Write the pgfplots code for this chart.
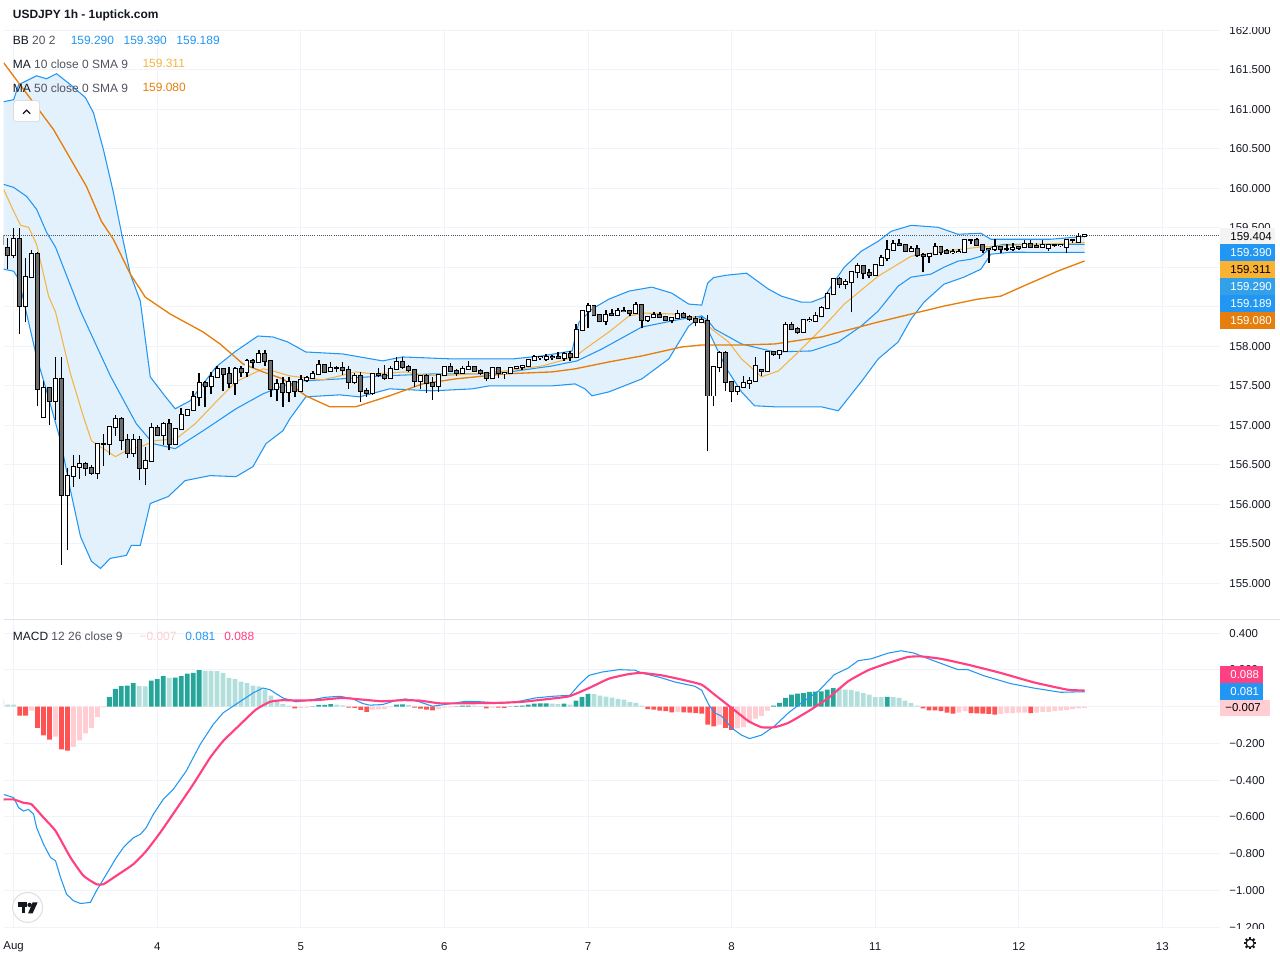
\documentclass[border=0pt]{standalone}
\usepackage{fontspec}
\setmainfont{Liberation Sans}
\usepackage{pgfplots}
\pgfplotsset{compat=1.18}
\usepackage{pgfplotstable}
\usepgfplotslibrary{fillbetween}
\definecolor{tvtext}{HTML}{131722}
\definecolor{argc}{HTML}{50535E}
\definecolor{gridc}{HTML}{F0F3FA}
\definecolor{bbblue}{HTML}{2196F3}
\definecolor{bbfill}{HTML}{E3F1FD}
\definecolor{ma10c}{HTML}{F6B441}
\definecolor{ma50c}{HTML}{E67E08}
\definecolor{downc}{HTML}{6E6E6E}
\definecolor{hdg}{HTML}{26A69A}
\definecolor{hlg}{HTML}{B2DFDB}
\definecolor{hlr}{HTML}{FFCDD2}
\definecolor{hr}{HTML}{FF5252}
\definecolor{sigc}{HTML}{FF4081}
\definecolor{sepc}{HTML}{E0E3EB}
\definecolor{tagblue2}{HTML}{33A0EA}
\definecolor{tagyel}{HTML}{F9B233}
\definecolor{tagorg}{HTML}{E57E0C}
\definecolor{lastc}{HTML}{F3F3F3}
\begin{document}
\pgfplotstableread{
h o hi lo c
-2 159.400 159.500 159.250 159.300
-1 159.241 159.376 158.976 159.156
0 159.156 159.502 159.123 159.363
1 159.363 159.502 158.155 158.505
2 158.505 159.123 158.303 158.883
3 158.883 159.219 158.871 159.174
4 159.174 159.190 157.238 157.461
5 157.104 157.566 157.090 157.470
6 157.470 157.480 156.998 157.306
7 157.306 157.861 157.061 157.584
8 157.584 157.869 155.231 156.114
9 156.114 156.460 155.420 156.359
10 156.359 156.628 156.224 156.473
11 156.473 156.628 156.325 156.506
12 156.506 156.540 156.363 156.460
13 156.460 156.493 156.367 156.397
14 156.397 156.770 156.325 156.763
15 156.763 156.893 156.489 156.763
16 156.763 156.980 156.619 156.973
17 156.973 157.133 156.868 157.074
18 157.074 157.104 156.682 156.817
19 156.817 156.893 156.586 156.653
20 156.653 156.893 156.603 156.817
21 156.817 156.864 156.304 156.460
22 156.460 156.725 156.241 156.549
23 156.549 157.032 156.540 156.965
24 156.965 156.998 156.864 156.881
25 156.881 157.041 156.745 157.019
26 157.019 157.074 156.682 156.767
27 156.767 156.956 156.758 156.947
28 156.947 157.217 156.940 157.133
29 157.133 157.210 157.120 157.196
30 157.196 157.440 157.187 157.356
31 157.356 157.663 157.238 157.533
32 157.533 157.566 157.230 157.495
33 157.495 157.676 157.398 157.609
34 157.609 157.755 157.600 157.714
35 157.714 157.720 157.432 157.650
36 157.650 157.735 157.474 157.533
37 157.533 157.735 157.389 157.714
38 157.714 157.755 157.609 157.672
39 157.672 157.840 157.609 157.818
40 157.818 157.840 157.726 157.802
41 157.802 157.953 157.790 157.903
42 157.903 157.953 157.755 157.811
43 157.811 157.820 157.364 157.461
44 157.461 157.587 157.306 157.524
45 157.524 157.612 157.234 157.419
46 157.419 157.609 157.293 157.546
47 157.546 157.566 157.356 157.432
48 157.432 157.638 157.420 157.578
49 157.571 157.620 157.546 157.596
50 157.596 157.688 157.587 157.650
51 157.650 157.831 157.640 157.764
52 157.764 157.773 157.672 157.679
53 157.688 157.798 157.679 157.722
54 157.722 157.755 157.679 157.722
55 157.722 157.798 157.638 157.697
56 157.697 157.748 157.461 157.546
57 157.546 157.663 157.524 157.629
58 157.629 157.672 157.301 157.440
59 157.440 157.470 157.356 157.407
60 157.407 157.663 157.385 157.650
61 157.650 157.722 157.609 157.638
62 157.638 157.764 157.578 157.600
63 157.600 157.748 157.587 157.714
64 157.714 157.861 157.700 157.806
65 157.806 157.861 157.714 157.743
66 157.743 157.764 157.676 157.701
67 157.701 157.710 157.490 157.558
68 157.558 157.630 157.461 157.621
69 157.621 157.650 157.411 157.537
70 157.537 157.609 157.322 157.495
71 157.495 157.650 157.419 157.642
72 157.642 157.755 157.629 157.735
73 157.735 157.789 157.672 157.684
74 157.684 157.714 157.621 157.659
75 157.659 157.755 157.650 157.714
76 157.714 157.818 157.700 157.735
77 157.735 157.748 157.672 157.684
78 157.684 157.714 157.638 157.659
79 157.659 157.672 157.566 157.596
80 157.596 157.735 157.587 157.722
81 157.722 157.735 157.596 157.659
82 157.659 157.679 157.587 157.663
83 157.663 157.735 157.650 157.722
84 157.722 157.755 157.714 157.735
85 157.735 157.764 157.705 157.748
86 157.748 157.840 157.735 157.831
87 157.831 157.890 157.818 157.861
88 157.861 157.880 157.830 157.870
89 157.840 157.903 157.815 157.870
90 157.870 157.890 157.831 157.861
91 157.861 157.924 157.840 157.848
92 157.848 157.924 157.818 157.903
93 157.903 157.944 157.818 157.861
94 157.861 158.281 157.850 158.206
95 158.206 158.450 158.197 158.442
96 158.442 158.546 158.227 158.512
97 158.505 158.520 158.390 158.395
98 158.395 158.408 158.303 158.316
99 158.316 158.462 158.269 158.395
100 158.408 158.471 158.386 158.395
101 158.395 158.480 158.386 158.449
102 158.449 158.492 158.429 158.445
103 158.445 158.462 158.378 158.420
104 158.420 158.555 158.410 158.521
105 158.521 158.534 158.227 158.332
106 158.332 158.386 158.311 158.366
107 158.366 158.437 158.360 158.395
108 158.395 158.429 158.360 158.366
109 158.366 158.386 158.324 158.332
110 158.332 158.366 158.290 158.353
111 158.353 158.462 158.345 158.408
112 158.408 158.429 158.353 158.366
113 158.366 158.395 158.324 158.345
114 158.345 158.386 158.252 158.303
115 158.303 158.366 158.290 158.332
116 158.323 158.395 156.670 157.377
117 157.377 157.740 157.243 157.735
118 157.735 157.944 157.672 157.915
119 157.915 157.944 157.440 157.546
120 157.546 157.550 157.301 157.440
121 157.440 157.503 157.385 157.483
122 157.483 157.621 157.480 157.533
123 157.533 157.609 157.461 157.566
124 157.558 157.861 157.546 157.748
125 157.695 157.714 157.621 157.690
126 157.684 157.944 157.679 157.924
127 157.924 157.944 157.882 157.903
128 157.903 157.957 157.840 157.937
129 157.937 158.303 157.930 158.269
130 158.269 158.303 158.210 158.218
131 158.218 158.240 158.155 158.177
132 158.184 158.345 158.180 158.332
133 158.332 158.366 158.311 158.336
134 158.323 158.429 158.320 158.386
135 158.378 158.505 158.366 158.480
136 158.480 158.682 158.471 158.656
137 158.656 158.850 158.650 158.849
138 158.849 158.883 158.732 158.783
139 158.783 158.849 158.723 158.808
140 158.808 158.954 158.429 158.934
141 158.934 159.060 158.858 159.010
142 159.010 159.017 158.849 158.925
143 158.925 158.976 158.858 158.900
144 158.900 159.039 158.890 159.026
145 159.026 159.152 159.017 159.123
146 159.123 159.345 159.080 159.219
147 159.219 159.345 159.210 159.291
148 159.291 159.354 159.270 159.279
149 159.279 159.291 159.194 159.207
150 159.207 159.270 159.200 159.237
151 159.237 159.280 159.135 159.152
152 159.152 159.186 158.934 159.148
153 159.140 159.186 159.060 159.165
154 159.165 159.304 159.150 159.262
155 159.262 159.270 159.152 159.194
156 159.207 159.237 159.165 159.186
157 159.190 159.228 159.165 159.194
158 159.194 159.228 159.177 159.199
159 159.199 159.354 159.190 159.345
160 159.345 159.363 159.291 159.345
161 159.345 159.376 159.270 159.279
162 159.279 159.291 159.186 159.219
163 159.237 159.250 159.060 159.228
164 159.237 159.354 159.207 159.262
165 159.262 159.270 159.177 159.228
166 159.228 159.291 159.207 159.228
167 159.228 159.304 159.207 159.249
168 159.262 159.270 159.219 159.245
169 159.262 159.345 159.249 159.300
170 159.300 159.345 159.249 159.262
171 159.270 159.304 159.249 159.258
172 159.258 159.345 159.249 159.279
173 159.249 159.280 159.207 159.279
174 159.279 159.291 159.262 159.279
175 159.279 159.291 159.262 159.283
176 159.262 159.354 159.186 159.345
177 159.345 159.363 159.312 159.345
178 159.325 159.430 159.320 159.388
179 159.395 159.417 159.380 159.404
}\candles
\pgfplotstableread{
h p
-1.667 161.096
0 161.121
0.833 161.311
3.833 161.424
5.5 161.386
7.167 161.450
9.5 161.311
12 161.147
13.333 160.957
15 160.490
16.667 159.948
18 159.443
19.5 158.913
21.167 158.572
22.833 157.613
25 157.398
27 157.209
29.5 157.310
31.667 157.524
33.833 157.739
37.167 157.941
40.833 158.130
43.333 158.118
45.833 158.054
48.833 157.928
55 157.903
61.667 157.815
65 157.865
73.333 157.840
83.333 157.840
88.333 157.878
93.333 157.941
94.5 158.307
96.667 158.471
99.5 158.597
102.833 158.698
106.667 158.749
110 158.673
112.833 158.534
115 158.521
116 158.800
117 158.870
119.167 158.900
122.5 158.925
126.167 158.723
128.333 158.635
131.667 158.559
133.333 158.559
135.5 158.622
136.667 158.761
138.833 159.001
141.667 159.203
144.5 159.329
146.667 159.455
150 159.531
154.5 159.506
157.833 159.418
161.667 159.431
163.333 159.355
167.833 159.355
173.333 159.355
179 159.390
}\bbup
\pgfplotstableread{
h p
-1.667 158.976
0 158.950
0.833 158.850
3.833 157.865
5.5 157.436
7.833 156.805
9.5 156.174
11.167 155.593
13 155.278
14.5 155.189
16.167 155.316
18.833 155.353
19.667 155.480
21.167 155.480
22.833 156.010
25.833 156.098
28.667 156.300
32.833 156.363
37.167 156.350
40 156.477
42.167 156.767
45 156.931
46.167 157.083
48.833 157.360
54.5 157.385
57.833 157.360
62.833 157.461
70 157.436
76.667 157.461
79.5 157.499
90 157.499
93.833 157.524
95.5 157.461
96.667 157.373
99.5 157.423
105 157.587
109.5 157.840
112.833 158.256
115 158.383
116 158.218
117.167 158.029
119.167 157.713
121.667 157.423
123.833 157.247
127.167 157.234
135 157.234
137.833 157.184
141.667 157.550
144.5 157.840
147.833 158.054
150 158.345
152.167 158.559
155.5 158.786
158.833 158.875
161.667 158.976
163.333 159.165
166.667 159.190
179 159.189
}\bblo
\pgfplotstableread{
h p
-1.667 160.049
0 160.011
2.167 159.897
3.833 159.733
5.5 159.443
7 159.253
11.167 158.446
16.167 157.625
20.5 157.019
23.333 156.767
27 156.704
31.667 156.931
37.167 157.209
41.667 157.398
45 157.499
48.333 157.562
54.5 157.587
61.667 157.625
70 157.650
76.667 157.650
81.667 157.663
90 157.751
94.167 157.815
98.333 157.966
105 158.244
111.667 158.345
115 158.383
116 158.330
117.167 158.218
121.667 158.029
127.167 157.928
133.333 157.941
137.833 158.054
141.667 158.256
144.5 158.446
147.833 158.761
150 158.875
153.333 158.913
155.5 159.001
157.833 159.077
160 159.102
161.667 159.140
163.333 159.253
165.5 159.291
179 159.290
}\bbmid
\pgfplotstableread{
h p
-1.667 159.985
0 159.708
1.167 159.531
2.5 159.506
3.833 159.291
5.833 158.635
7 158.433
9.5 157.651
11.667 157.108
13 156.805
15 156.704
17 156.603
18.833 156.679
21.667 156.742
23.667 156.805
27.167 156.830
30.333 157.019
33.833 157.297
37.167 157.550
39.167 157.625
41.667 157.714
43.333 157.688
46.167 157.625
51.667 157.575
54.5 157.625
57.167 157.676
60 157.651
65.5 157.676
68.333 157.638
71.167 157.625
76.667 157.651
82.167 157.688
88.333 157.751
93.833 157.865
95.5 157.966
99.5 158.181
102.833 158.383
105.5 158.420
110.5 158.408
115 158.345
116.667 158.218
119.5 158.054
121.667 157.840
125 157.613
127.833 157.688
131.167 157.928
135 158.218
138.833 158.534
144.5 158.887
150 159.140
155.5 159.203
161.167 159.253
166.667 159.279
179 159.311
}\maten
\pgfplotstableread{
h p
-1.667 161.588
6.667 160.743
12.167 160.023
14.667 159.582
16.667 159.354
19.5 158.913
22 158.622
26.167 158.408
31.667 158.181
34.5 158.029
38.333 157.777
41.667 157.676
45 157.587
48.833 157.373
52.833 157.234
57.167 157.234
62.833 157.373
68.333 157.524
73.833 157.587
82.167 157.651
90 157.676
93.833 157.714
99.5 157.802
105 157.878
111.667 157.991
115 158.017
121.667 158.017
127.167 158.029
135 158.118
144.5 158.307
150 158.408
155.5 158.509
161.167 158.597
165 158.635
169.5 158.786
174.5 158.951
179 159.080
}\mafifty
\pgfplotstableread{
h v k
-2 0.038 2
-1 0.011 2
0 0.011 2
1 -0.049 4
2 -0.049 4
3 -0.022 3
4 -0.116 4
5 -0.157 4
6 -0.179 4
7 -0.163 3
8 -0.233 4
9 -0.239 4
10 -0.219 3
11 -0.184 3
12 -0.146 3
13 -0.116 3
14 -0.056 3
15 -0.004 3
16 0.052 1
17 0.096 1
18 0.112 1
19 0.114 1
20 0.128 1
21 0.112 2
22 0.110 2
23 0.141 1
24 0.150 1
25 0.166 1
26 0.156 2
27 0.158 1
28 0.166 1
29 0.179 1
30 0.184 1
31 0.199 1
32 0.194 2
33 0.194 2
34 0.193 2
35 0.184 2
36 0.156 2
37 0.150 2
38 0.136 2
39 0.128 2
40 0.114 2
41 0.110 2
42 0.092 2
43 0.060 2
44 0.036 2
45 0.014 2
46 0.005 2
47 -0.009 4
48 -0.007 3
49 -0.005 3
50 0.002 1
51 0.009 1
52 0.010 1
53 0.014 1
54 0.011 2
55 0.007 2
56 -0.005 4
57 -0.007 4
58 -0.018 4
59 -0.029 4
60 -0.016 3
61 -0.015 3
62 -0.014 3
63 -0.004 3
64 0.011 1
65 0.012 1
66 0.009 2
67 -0.005 4
68 -0.011 4
69 -0.016 4
70 -0.020 4
71 -0.014 3
72 -0.005 3
73 -0.004 3
74 0.001 1
75 0.005 1
76 0.006 1
77 0.005 2
78 0.004 2
79 -0.009 4
80 -0.005 3
81 -0.006 4
82 -0.007 4
83 0.002 1
84 0.004 1
85 0.005 1
86 0.011 1
87 0.016 1
88 0.017 1
89 0.018 1
90 0.016 2
91 0.014 2
92 0.016 1
93 0.011 2
94 0.033 1
95 0.052 1
96 0.069 1
97 0.068 2
98 0.060 2
99 0.054 2
100 0.049 2
101 0.042 2
102 0.038 2
103 0.025 2
104 0.020 2
105 0.005 2
106 -0.013 4
107 -0.016 4
108 -0.022 4
109 -0.025 4
110 -0.031 4
111 -0.030 3
112 -0.031 4
113 -0.033 4
114 -0.036 4
115 -0.038 4
116 -0.098 4
117 -0.108 4
118 -0.098 3
119 -0.116 4
120 -0.127 4
121 -0.119 3
122 -0.112 3
123 -0.089 3
124 -0.065 3
125 -0.051 3
126 -0.022 3
127 0.005 1
128 0.020 1
129 0.047 1
130 0.065 1
131 0.071 1
132 0.074 1
133 0.080 1
134 0.081 1
135 0.083 1
136 0.092 1
137 0.101 1
138 0.100 2
139 0.092 2
140 0.091 2
141 0.083 2
142 0.074 2
143 0.065 2
144 0.052 2
145 0.051 2
146 0.053 1
147 0.052 2
148 0.047 2
149 0.033 2
150 0.020 2
151 0.005 2
152 -0.009 4
153 -0.020 4
154 -0.021 4
155 -0.025 4
156 -0.033 4
157 -0.038 4
158 -0.033 3
159 -0.025 3
160 -0.036 4
161 -0.037 4
162 -0.038 4
163 -0.040 4
164 -0.043 4
165 -0.040 3
166 -0.036 3
167 -0.035 3
168 -0.033 3
169 -0.032 3
170 -0.036 4
171 -0.033 3
172 -0.029 3
173 -0.028 3
174 -0.025 3
175 -0.022 3
176 -0.018 3
177 -0.014 3
178 -0.009 3
179 -0.007 3
}\hist
\pgfplotstableread{
h v
-1.667 -0.478
0 -0.495
0.833 -0.550
1.667 -0.568
2.5 -0.559
3.333 -0.586
3.833 -0.658
5 -0.749
6.167 -0.821
7 -0.839
7.833 -0.929
8.833 -1.020
10 -1.056
11.167 -1.071
12.833 -1.065
13.833 -1.002
15.5 -0.912
17.167 -0.821
18.333 -0.767
20 -0.713
21.167 -0.695
22.167 -0.658
23.333 -0.586
25 -0.505
26.667 -0.450
28.833 -0.351
31.167 -0.206
33.333 -0.098
35 -0.034
36.667 0.002
38.333 0.038
40 0.074
41.667 0.101
42.833 0.092
45 0.047
47.167 0.026
50 0.038
52.167 0.051
54.5 0.056
56.667 0.043
58.333 0.017
59.5 0.008
61.667 0.011
63.833 0.033
65.5 0.042
67.833 0.026
70 0.002
72.833 0.015
75.5 0.029
78.333 0.026
81.667 0.018
84.5 0.029
87.167 0.047
90 0.056
93 0.062
94.5 0.119
96.167 0.170
98.333 0.188
101.167 0.201
103.833 0.198
105 0.183
108.333 0.156
110.5 0.134
113.833 0.111
115 0.089
116.167 0.011
117.167 -0.034
118.333 -0.052
120 -0.116
121.667 -0.155
123 -0.174
125 -0.155
127.167 -0.106
129.5 -0.034
131.667 0.020
134.5 0.084
137.167 0.174
139.5 0.210
141.167 0.250
143.333 0.260
146.167 0.291
148.333 0.304
150.5 0.291
153.333 0.255
157.833 0.201
159.5 0.201
162.167 0.168
166.667 0.125
170.5 0.101
175 0.078
179 0.081
}\macd
\pgfplotstableread{
h v
-1.667 -0.505
0 -0.505
1.667 -0.523
3 -0.532
5 -0.604
7 -0.676
9.5 -0.821
11.667 -0.920
13.833 -0.966
15 -0.966
17.167 -0.920
20 -0.857
22.167 -0.785
24.5 -0.685
27.167 -0.559
30 -0.423
32.833 -0.278
35 -0.188
37.833 -0.098
40.5 -0.016
42.833 0.026
45 0.035
48.333 0.033
51.667 0.038
55 0.047
58.333 0.038
61.667 0.029
65 0.035
67.833 0.033
71.167 0.018
75 0.018
80.5 0.020
85 0.026
89.5 0.042
92.833 0.056
96.167 0.101
99.5 0.152
102.833 0.177
105 0.183
108.333 0.170
111.667 0.147
115 0.119
117.167 0.065
120 -0.007
122.833 -0.079
125 -0.112
127.167 -0.112
129.5 -0.088
132.833 -0.025
136.167 0.047
139.5 0.138
142.833 0.198
146.167 0.237
149.5 0.270
151.667 0.273
155 0.260
159.5 0.228
165 0.183
170.5 0.132
176.167 0.092
179 0.088
}\signal
\pgfplotsset{tvaxis/.style={scale only axis, width=915pt,
  xmin=-1.667, xmax=201.667, xtick={0,24,48,72,96,120,144,168,192},
  axis line style={draw=none}, tick style={draw=none}, major tick length=0pt,
  grid=major, major grid style={draw=gridc, line width=0.75pt},
  yticklabel pos=right,
  yticklabel style={anchor=west, inner sep=0pt, xshift=6.75pt, font=\fontsize{8.6}{10}\selectfont, text=tvtext},
  xticklabel style={anchor=center, inner sep=0pt, yshift=-13.5pt, font=\fontsize{8.6}{10}\selectfont, text=tvtext}},
  nomark/.style={only marks, mark=*, mark size=0pt, mark options={draw=none, fill=none}, forget plot}}
\begin{tikzpicture}
\begin{axis}[tvaxis, at={(0pt,-21.75pt)}, anchor=north west, height=443.25pt,
  ymin=154.558, ymax=162.017,
  ytick={155,155.5,156,156.5,157,157.5,158,158.5,159,159.5,160,160.5,161,161.5,162},
  yticklabels={155.000,155.500,156.000,156.500,157.000,157.500,158.000,,,159.500,160.000,160.500,161.000,161.500,162.000},
  xticklabels={}]
\addplot[draw=none, name path=bbu, forget plot] table[x=h,y=p]{\bbup};
\addplot[draw=none, name path=bbl, forget plot] table[x=h,y=p]{\bblo};
\addplot[fill=bbfill, draw=none, forget plot] fill between[of=bbu and bbl];
\addplot[densely dotted, color=argc, line width=0.6pt, forget plot] coordinates {(-2,159.404) (202,159.404)};
\addplot[bbblue, line width=0.8pt, forget plot] table[x=h,y=p]{\bbup};
\addplot[bbblue, line width=0.8pt, forget plot] table[x=h,y=p]{\bblo};
\addplot[bbblue, line width=0.8pt, forget plot] table[x=h,y=p]{\bbmid};
\addplot[ma10c, line width=0.8pt, forget plot] table[x=h,y=p]{\maten};
\addplot[ma50c, line width=1pt, forget plot] table[x=h,y=p]{\mafifty};
% wicks
\addplot[nomark, error bars/.cd, y dir=plus, y explicit, error mark=none,
  error bar style={draw=black, line width=1.1pt}]
  table[x=h, y=lo, y error plus expr=\thisrow{hi}-\thisrow{lo}]{\candles};
% up bodies
\addplot[nomark, restrict expr to domain={\thisrow{c}-\thisrow{o}}{0:10},
  error bars/.cd, y dir=plus, y explicit, error mark=none, error bar style={draw=black, line width=3.75pt}]
  table[x=h, y expr=\thisrow{o}-0.0126, y error plus expr=\thisrow{c}-\thisrow{o}+0.0252]{\candles};
\addplot[nomark, restrict expr to domain={\thisrow{c}-\thisrow{o}}{0:10},
  error bars/.cd, y dir=plus, y explicit, error mark=none, error bar style={draw=white, line width=2.25pt}]
  table[x=h, y=o, y error plus expr=\thisrow{c}-\thisrow{o}]{\candles};
% down bodies
\addplot[nomark, restrict expr to domain={\thisrow{o}-\thisrow{c}}{0.0001:10},
  error bars/.cd, y dir=plus, y explicit, error mark=none, error bar style={draw=black, line width=3.75pt}]
  table[x=h, y expr=\thisrow{c}-0.0126, y error plus expr=\thisrow{o}-\thisrow{c}+0.0252]{\candles};
\addplot[nomark, restrict expr to domain={\thisrow{o}-\thisrow{c}}{0.0001:10},
  error bars/.cd, y dir=plus, y explicit, error mark=none, error bar style={draw=downc, line width=2.25pt}]
  table[x=h, y=c, y error plus expr=\thisrow{o}-\thisrow{c}]{\candles};
\end{axis}
\begin{axis}[tvaxis, at={(0pt,-466.5pt)}, anchor=north west, height=231.75pt,
  ymin=-1.206, ymax=0.470,
  ytick={-1.2,-1,-0.8,-0.6,-0.4,-0.2,0,0.2,0.4},
  yticklabels={−1.200,−1.000,−0.800,−0.600,−0.400,−0.200,,0.200,0.400},
  xticklabels={Aug,4,5,6,7,8,11,12,13}]
\addplot[ybar, bar width=3.6pt, bar shift=0pt, draw=none, fill=hdg, forget plot, restrict expr to domain={\thisrow{k}}{0.5:1.5}] table[x=h,y=v]{\hist};
\addplot[ybar, bar width=3.6pt, bar shift=0pt, draw=none, fill=hlg, forget plot, restrict expr to domain={\thisrow{k}}{1.5:2.5}] table[x=h,y=v]{\hist};
\addplot[ybar, bar width=3.6pt, bar shift=0pt, draw=none, fill=hlr, forget plot, restrict expr to domain={\thisrow{k}}{2.5:3.5}] table[x=h,y=v]{\hist};
\addplot[ybar, bar width=3.6pt, bar shift=0pt, draw=none, fill=hr, forget plot, restrict expr to domain={\thisrow{k}}{3.5:4.5}] table[x=h,y=v]{\hist};
\addplot[bbblue, line width=0.8pt, forget plot] table[x=h,y=v]{\macd};
\addplot[sigc, line width=1.6pt, smooth, tension=0.3, forget plot] table[x=h,y=v]{\signal};
\end{axis}
\begin{scope}[x=0.75pt,y=-0.75pt]
\fill[white] (1221,0) rectangle (1280,27);
\fill[white] (1221,932) rectangle (1280,940);
\draw[sepc, line width=0.75pt] (0,621) -- (1280,621);
\tikzset{lab/.style={anchor=west, inner sep=0pt, font=\fontsize{9}{11}\selectfont}}
\node[lab, font=\bfseries\fontsize{9}{11}\selectfont, text=tvtext] at (9,15.5) {USDJPY 1h - 1uptick.com};
\node[lab, text=tvtext] at (9,40) {BB \textcolor{argc}{20 2}};
\node[lab, text=bbblue] at (67,40) {159.290};
\node[lab, text=bbblue] at (120,40) {159.390};
\node[lab, text=bbblue] at (173,40) {159.189};
\node[lab, text=tvtext] at (9,64) {MA \textcolor{argc}{10 close 0 SMA 9}};
\node[lab, text=ma10c] at (139,64) {159.311};
\node[lab, text=tvtext] at (9,88) {MA \textcolor{argc}{50 close 0 SMA 9}};
\node[lab, text=ma50c] at (139,88) {159.080};
\draw[gray!35, fill=white, rounded corners=2pt] (10,101) rectangle (36,122);
\draw[tvtext, line width=0.9pt] (19.5,114) -- (23,110.5) -- (26.5,114);
\node[lab, text=tvtext] at (9,638) {MACD \textcolor{argc}{12 26 close 9}};
\node[lab, text=hlr] at (136,638) {−0.007};
\node[lab, text=bbblue] at (182,638) {0.081};
\node[lab, text=sigc] at (221,638) {0.088};
% price tags
\tikzset{tag/.style={anchor=west, inner sep=0pt, font=\fontsize{8.6}{10}\selectfont}}
\fill[lastc] (1220,228.5) rectangle (1275,245); \node[tag, text=black] at (1230,237) {159.404};
\fill[bbblue] (1220,245) rectangle (1275,262); \node[tag, text=white] at (1230,253.5) {159.390};
\fill[tagyel] (1220,262) rectangle (1275,279); \node[tag, text=black] at (1230,270.5) {159.311};
\fill[tagblue2] (1220,279) rectangle (1275,296); \node[tag, text=white] at (1230,287.5) {159.290};
\fill[bbblue] (1220,296) rectangle (1275,313); \node[tag, text=white] at (1230,304.5) {159.189};
\fill[tagorg] (1220,313) rectangle (1275,330); \node[tag, text=white] at (1230,321.5) {159.080};
\fill[sigc] (1220,668) rectangle (1263,685); \node[tag, text=white] at (1230,676.5) {0.088};
\fill[bbblue] (1220,685) rectangle (1263,702); \node[tag, text=white] at (1230,693.5) {0.081};
\fill[hlr] (1220,702) rectangle (1270,718.5); \node[tag, text=black] at (1225,710) {−0.007};
% logo
\draw[gray!25, fill=white, line width=0.8pt] (24,910) circle (15);
\fill[tvtext] (14.5,905) rectangle (23.5,909.5);
\fill[tvtext] (18,905) rectangle (21.5,916);
\fill[tvtext] (26,907.5) circle (2.2);
\fill[tvtext] (29,905) -- (34,905) -- (29,916) -- (24.5,916) -- cycle;
% gear
\draw[tvtext, line width=0.9pt] (1250,946) circle (4);
\foreach \a in {0,45,...,315} \draw[tvtext, line width=1.5pt] ([shift={(1250,946)}]\a:4) -- ([shift={(1250,946)}]\a:6.2);
\end{scope}
\pgfresetboundingbox
\path[use as bounding box] (0pt,0pt) rectangle (960pt,-720pt);
\end{tikzpicture}
\end{document}
